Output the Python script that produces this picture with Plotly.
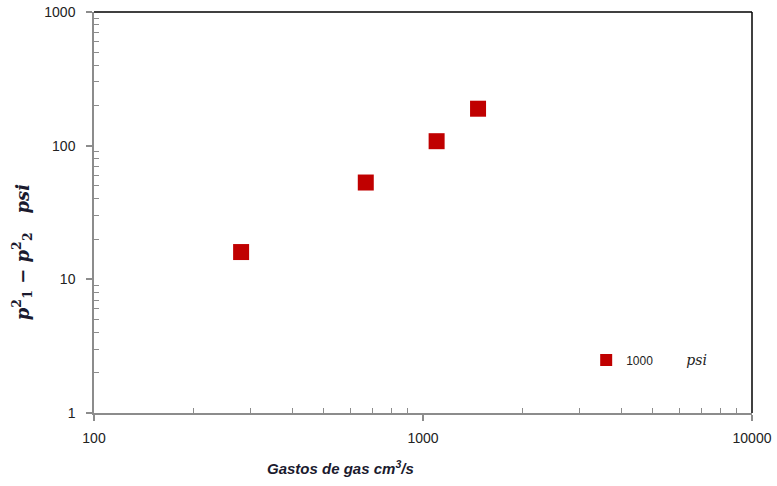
import plotly.graph_objects as go

gasto = [280, 670, 1100, 1470]
dp2 = [16.0, 53, 108, 189]
serie = "1000"

x_ticks = [100, 1000, 10000]
y_ticks = [1, 10, 100, 1000]

minor_x = [m * d for d in (100, 1000) for m in range(2, 10)]
minor_y = [m * d for d in (1, 10, 100) for m in range(2, 10)]

fig = go.Figure()
fig.add_trace(go.Scatter(
    x=gasto, y=dp2, mode="markers", showlegend=False,
    marker=dict(symbol="square", size=16, color="#C00000"),
))
# legend entry (smaller marker like the reference)
fig.add_trace(go.Scatter(
    x=[None], y=[None], mode="markers",
    name=serie + "\u00a0" * 10 + "<span style='font-family:DejaVu Serif;font-size:14px'><i>psi</i></span>",
    marker=dict(symbol="square", size=12, color="#C00000"),
))

axis_common = dict(
    type="log", showgrid=False, zeroline=False, automargin=False,
    showline=True, linecolor="#8c8c8c", linewidth=1.5,
    ticks="outside", ticklen=6, tickcolor="#8c8c8c", tickwidth=1.5,
    ticklabeloverflow="allow",
    tickfont=dict(family="Liberation Sans", size=14, color="#222222"),
)

fig.update_xaxes(
    **axis_common, range=[2, 4], tickvals=x_ticks, ticktext=[str(v) for v in x_ticks],
    ticklabelstandoff=5,
    minor=dict(tickmode="array", tickvals=minor_x, ticks="inside", ticklen=5,
               tickcolor="#8c8c8c", tickwidth=1.2, showgrid=False),
)
fig.update_yaxes(
    **axis_common, range=[0, 3], tickvals=y_ticks, ticktext=[str(v) for v in y_ticks],
    ticklabelstandoff=8,
    minor=dict(tickmode="array", tickvals=minor_y, ticks="inside", ticklen=5,
               tickcolor="#8c8c8c", tickwidth=1.2, showgrid=False),
)

fig.add_shape(type="line", xref="paper", yref="paper", x0=0, x1=1, y0=1, y1=1,
              line=dict(color="black", width=1.5))
fig.add_shape(type="line", xref="paper", yref="paper", x0=1, x1=1, y0=0, y1=1,
              line=dict(color="black", width=1.5))

fig.add_annotation(
    xref="paper", yref="paper", x=-0.11, y=0.40, textangle=-90, showarrow=False,
    xanchor="center", yanchor="middle",
    text="<b><i>p</i><sup>2</sup><sub>1</sub> − <i>p</i><sup>2</sup><sub>2</sub>\u00a0\u00a0\u00a0<i>psi</i></b>",
    font=dict(family="DejaVu Serif", size=18, color="#1a1a2e"),
)
fig.add_annotation(
    xref="paper", yref="paper", x=0.375, y=-0.135, showarrow=False,
    xanchor="center", yanchor="middle",
    text="<b><i>Gastos de gas cm<sup>3</sup>/s</i></b>",
    font=dict(family="Liberation Sans", size=15, color="#1a1a2e"),
)

fig.update_layout(
    width=777, height=486,
    margin=dict(l=94, r=25, t=12, b=73, autoexpand=False),
    paper_bgcolor="white", plot_bgcolor="white",
    showlegend=True,
    legend=dict(x=0.748, y=0.132, xanchor="left", yanchor="middle",
                bgcolor="rgba(0,0,0,0)", font=dict(family="Liberation Sans", size=12, color="#222222"),
                itemwidth=30),
)

# remove the default page margin so the figure fills the window exactly
fig.write_html("out.html", config={"displayModeBar": False},
               post_script="document.body.style.margin='0';")
